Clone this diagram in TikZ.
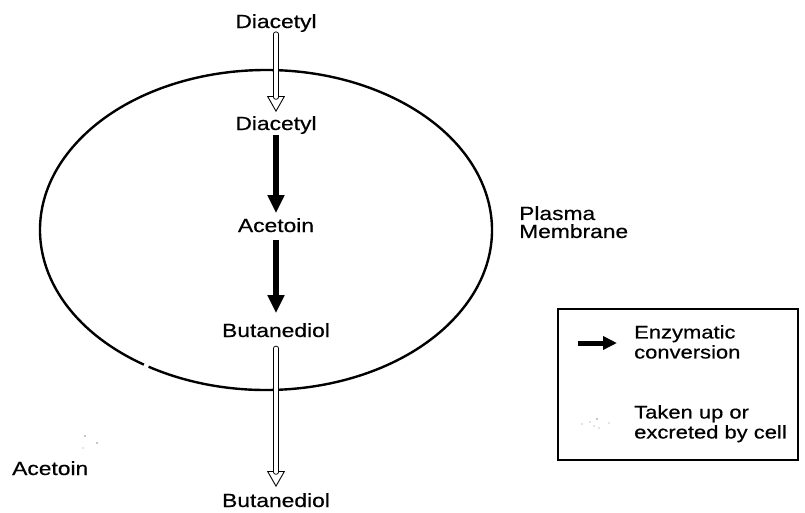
\documentclass[tikz,border=0pt]{standalone}
\usepackage{fontspec}
\setmainfont{Liberation Sans}[FakeStretch=1.2,FakeBold=0.5]
\usetikzlibrary{arrows.meta,calc}
\tikzset{
  lbl/.style={inner sep=0pt, font=\fontsize{19}{18}\selectfont},
  legtxt/.style={inner sep=0pt, align=left, anchor=north west, font=\fontsize{18.3}{20}\selectfont},
  enzarrow/.style={line width=6.5pt, -{Triangle[width=16pt,length=18pt]}},
  hollowhead/.style={line width=0.9pt, -{Triangle[open,fill=white,width=18pt,length=16pt]}},
  hollowshaft/.style={line width=0.9pt, double=white, double distance=3.6pt, line cap=round},
  membrane/.style={line width=2.4pt},
  dotfaint/.style={fill=black!45, draw=none}
}
\begin{document}
\begin{tikzpicture}[x=1pt,y=-1pt]
\useasboundingbox (0,0) rectangle (805,512);
% membrane ellipse (with a small gap at lower left)
\coordinate (ec) at (266,230);
\draw[membrane] ($(ec)+(122.7:226 and 160)$) arc[start angle=122.7, end angle=481.3, x radius=226, y radius=160];

% metabolite labels
\node[lbl, anchor=base] (dOut) at (276,28) {Diacetyl};
\node[lbl, anchor=base] (dIn) at (276,130) {Diacetyl};
\node[lbl, anchor=base] (aIn) at (276,232) {Acetoin};
\node[lbl, anchor=base] (bIn) at (276,337) {Butanediol};
\node[lbl, anchor=base] (bOut) at (276,507) {Butanediol};
\node[lbl, anchor=base west] (aOut) at (12,475) {Acetoin};
\node[legtxt, font=\fontsize{19}{18}\selectfont] (pm) at (519,206) {Plasma\\Membrane};

% uptake of diacetyl
\draw[hollowhead, shorten <=2pt, shorten >=4pt] (dOut.south) -- (dIn.north);
\draw[hollowshaft, shorten <=2pt, shorten >=19pt] (dOut.south) -- (dIn.north);
% enzymatic conversions
\draw[enzarrow, shorten <=1pt, shorten >=5pt] (dIn.south) -- (aIn.north);
\draw[enzarrow, shorten <=8pt, shorten >=10pt] (aIn.south) -- (bIn.north);
% excretion of butanediol
\draw[hollowhead, shorten <=11pt, shorten >=6pt] (bIn.south) -- (bOut.north);
\draw[hollowshaft, shorten <=11pt, shorten >=21pt] (bIn.south) -- (bOut.north);

% faint remnants near lower-left acetoin
\fill[dotfaint] (85,436) circle (0.9);
\fill[dotfaint] (97,443) circle (0.9);
\fill[dotfaint] (83,448) circle (0.7);

% legend
\node[draw, line width=1.8pt, inner sep=0pt, minimum width=240pt, minimum height=151pt, anchor=north west] (legend) at (557,308) {};
\coordinate (la0) at (578,343);
\coordinate (la1) at (617,343);
\draw[line width=5pt, -{Triangle[width=13pt,length=14pt]}] (la0) -- (la1);
\node[legtxt] (l1) at (634,325) {Enzymatic\\conversion};
\fill[dotfaint] (582,424) circle (0.6);
\fill[dotfaint] (590,422) circle (0.7);
\fill[dotfaint] (597,419) circle (0.8);
\fill[dotfaint] (594,426) circle (0.7);
\fill[dotfaint] (599,428) circle (0.6);
\fill[dotfaint] (609,423) circle (0.6);
\node[legtxt] (l2) at (634,405) {Taken up or\\excreted by cell};
\end{tikzpicture}
\end{document}
